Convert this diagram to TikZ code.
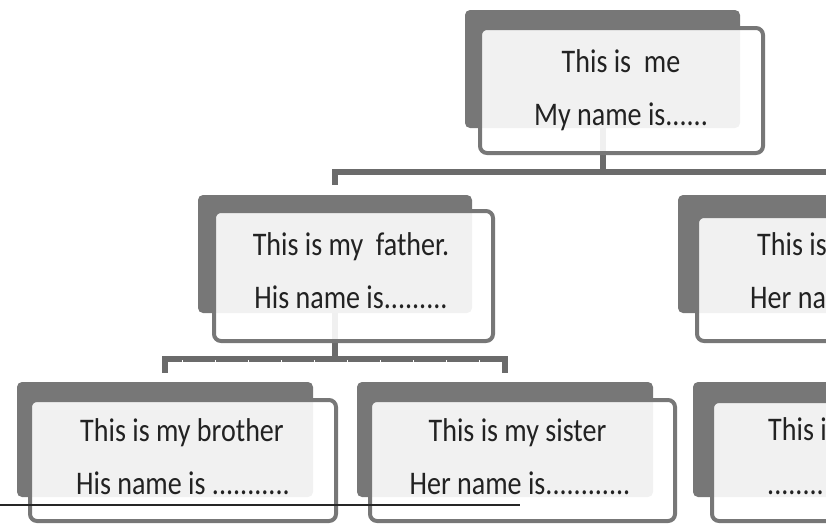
\documentclass[tikz,border=0pt]{standalone}
\usepackage{fontspec}
\setmainfont{Carlito}[FakeStretch=0.85]
\usetikzlibrary{calc}
\definecolor{boxgray}{HTML}{777777}
\definecolor{conngray}{HTML}{6B6B6B}
\definecolor{textc}{HTML}{222222}
\newcommand\lblfont{\fontsize{33}{40}\selectfont}
\tikzset{
  backbox/.style={fill=boxgray, rounded corners=5pt, inner sep=0pt, draw=none},
  frontbox/.style={draw=boxgray, line width=4pt, fill=white, fill opacity=0.9, rounded corners=7pt, inner sep=0pt},
  conn/.style={draw=conngray, line width=6pt, line join=miter},
  conntwo/.style={draw=conngray, line width=6pt, line join=miter},
  lbl/.style={anchor=base, text=textc, font=\lblfont, inner sep=0pt},
  lblw/.style={anchor=base west, text=textc, font=\lblfont, inner sep=0pt}
}
\begin{document}
\begin{tikzpicture}[x=1pt,y=-1pt]
\useasboundingbox (0,0) rectangle (826,525);
\clip (0,0) rectangle (826,525);
% back boxes
\node[backbox, minimum width=275pt, minimum height=118pt] (meB) at (602.5,69) {};
\node[backbox, minimum width=274pt, minimum height=118pt] (faB) at (335,254) {};
\node[backbox, minimum width=274pt, minimum height=118pt] (moB) at (815,254) {};
\node[backbox, minimum width=296pt, minimum height=115pt] (brB) at (165,439.5) {};
\node[backbox, minimum width=296pt, minimum height=115pt] (siB) at (505,439.5) {};
\node[backbox, minimum width=296pt, minimum height=115pt] (bbB) at (841,439.5) {};
% connectors
\coordinate (h1) at (0,172);
\coordinate (h2) at (0,359);
\coordinate (rightend) at (840,172);
\draw[conn] (meB.south) -- (meB.south |- h1);
\draw[conn] ($(faB.north)+(0,-10)$) -- (faB.north |- h1) -- (rightend);
\draw[conntwo] (faB.south) -- (faB.south |- h2);
\draw[conntwo] ($(brB.north)+(0,-9)$) -- (brB.north |- h2) -- (siB.north |- h2) -- ($(siB.north)+(0,-9)$);
\foreach \i in {0,...,9}
  \draw[white, line width=1pt] ($(brB.north |- h2)+(17+33*\i,1)$) -- ++(0,3);
% front boxes
\node[frontbox, minimum width=283pt, minimum height=125pt] (meF) at (621.5,90.5) {};
\node[frontbox, minimum width=279pt, minimum height=130pt] (faF) at (353.5,276) {};
\node[frontbox, minimum width=279pt, minimum height=125pt] (moF) at (836.5,278.5) {};
\node[frontbox, minimum width=306pt, minimum height=121pt] (brF) at (183,460.5) {};
\node[frontbox, minimum width=305pt, minimum height=121pt] (siF) at (522.5,460.5) {};
\node[frontbox, minimum width=305pt, minimum height=120pt] (bbF) at (864.5,461) {};
% texts
\node[lbl] (me1) at (621,72) {This is\ \ me};
\node[lbl] (me2) at (621,125) {My name is......};
\node[lbl] (fa1) at (351,255) {This is my\ \ father.};
\node[lbl] (fa2) at (351,308) {His name is.........};
\node[lblw] (mo1) at (757,255) {This is};
\node[lblw] (mo2) at (750,308) {Her na};
\node[lbl] (br1) at (182,441) {This is my brother};
\node[lbl] (br2) at (183,494) {His name is ...........};
\node[lbl] (si1) at (517.5,441) {This is my sister};
\node[lbl] (si2) at (520,494) {Her name is............};
\node[lblw] (bb1) at (768,440) {This i};
\node[lblw] (bb2) at (767,494) {........};
% thin line
\coordinate (l1) at (0,505);
\coordinate (l2) at (520,505);
\draw[draw=black!85, line width=1.2pt] (l1) -- (l2);
\end{tikzpicture}
\end{document}
